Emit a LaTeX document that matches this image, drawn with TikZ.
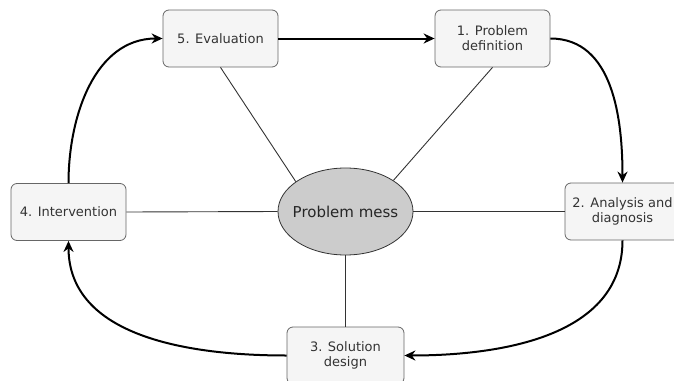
\documentclass[tikz,border=0pt]{standalone}
\usepackage{fontspec}
\setmainfont{DejaVu Sans}
\usetikzlibrary{shapes.geometric,arrows.meta}
\definecolor{boxfill}{HTML}{F5F5F5}
\definecolor{boxline}{HTML}{666666}
\definecolor{txt}{HTML}{333333}
\definecolor{messfill}{HTML}{CCCCCC}
\tikzset{
  stage/.style={draw=boxline, fill=boxfill, rounded corners=6pt, line width=0.8pt,
    minimum width=115pt, minimum height=57pt, inner sep=0pt, align=center,
    text=txt, font=\fontsize{13}{15}\selectfont},
  mess/.style={ellipse, draw=txt, fill=messfill, line width=0.8pt,
    minimum width=135pt, minimum height=87pt, inner xsep=-14pt, inner ysep=0pt,
    text=black!85, font=\fontsize{15}{18}\selectfont},
  spoke/.style={draw=black!80, line width=0.9pt},
  cycle/.style={draw=black, line width=2pt, -{Stealth[length=11pt,width=10pt]}}
}
\begin{document}
\begin{tikzpicture}[x=1pt,y=-1pt]
\useasboundingbox (0,0) rectangle (674,380);
\clip (0,0) rectangle (674,380);

% central problem
\node[mess] (pm) at (345.5,211.5) {Problem mess};

% cycle stages
\node[stage] (s5) at (220.5,38.5) {5. Evaluation};
\node[stage] (s1) at (492.5,38.5) {1. Problem\\definition};
\node[stage] (s2) at (622.5,211.5) {2. Analysis and\\diagnosis};
\node[stage, minimum width=117pt] (s3) at (345.5,355.5) {3. Solution\\design};
\node[stage] (s4) at (68.5,212) {4. Intervention};

% spokes from the problem mess to every stage
\draw[spoke] (s5.south) -- (pm.149);
\draw[spoke] (s1.south) -- (pm.33);
\draw[spoke] (s4.east) -- (pm.west);
\draw[spoke] (pm.east) -- (s2.west);
\draw[spoke] (pm.south) -- (s3.north);

% the cycle
\draw[cycle] (s5.east) -- (s1.west);
\draw[cycle] (s1.east) to[out=0,in=90] (s2.north);
\draw[cycle] (s2.south) to[out=-90,in=0] (s3.east);
\draw[cycle] (s3.west) to[out=180,in=-90] (s4.south);
\draw[cycle] (s4.north) to[out=90,in=180] (s5.west);
\end{tikzpicture}
\end{document}
